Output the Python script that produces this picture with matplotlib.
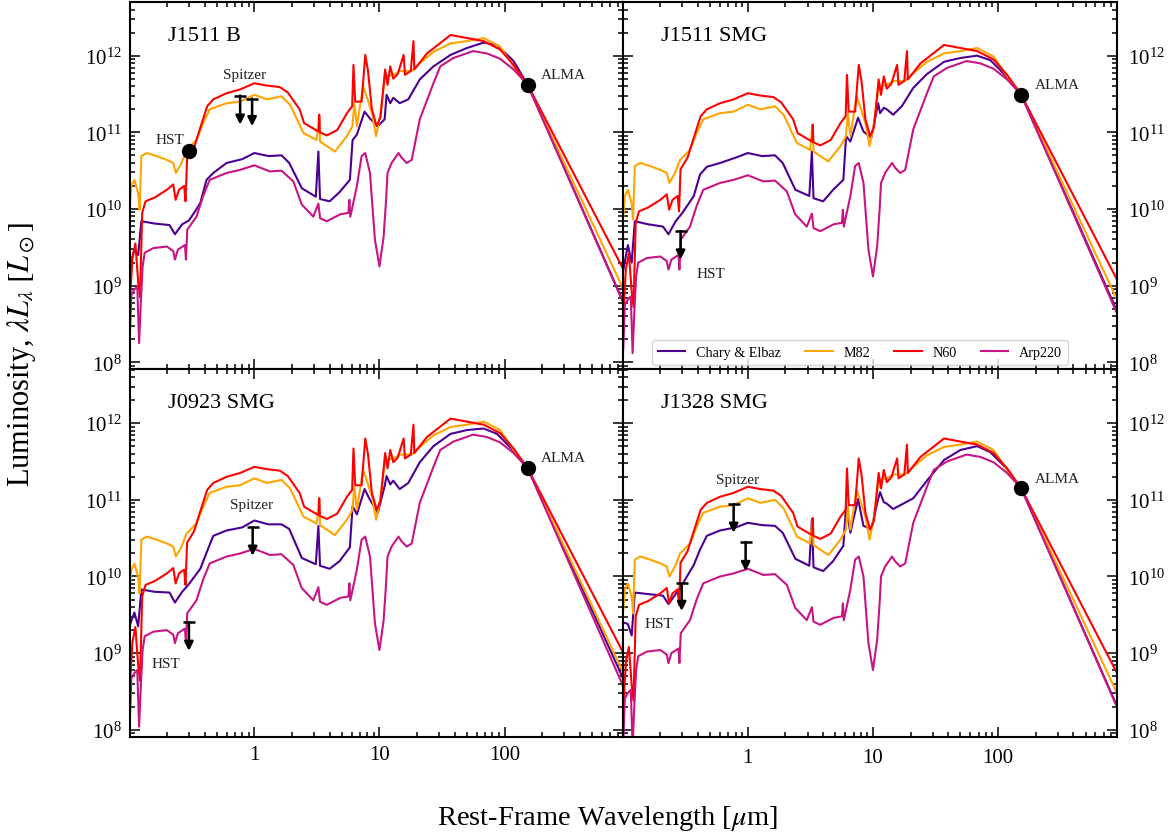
import numpy as np
import matplotlib
matplotlib.use('Agg')
import matplotlib.pyplot as plt
from matplotlib import ticker

plt.rcParams['font.family'] = 'serif'
plt.rcParams['font.serif'] = ['Liberation Serif', 'DejaVu Serif']
plt.rcParams['mathtext.fontset'] = 'stix'

panels = ['J1511 B', 'J1511 SMG', 'J0923 SMG', 'J1328 SMG']

# wavelength grids of the templates (micron)
ce_wave = [0.101, 0.11, 0.118, 0.125, 0.16, 0.21, 0.232, 0.265, 0.3, 0.34,
           0.37, 0.415, 0.47, 0.6, 0.8, 1.0, 1.3, 1.65, 1.9, 2.4,
           3.1, 3.25, 3.35, 4.0, 4.8, 5.8, 6.1, 6.6, 7.6, 8.4,
           9.7, 11.0, 11.4, 12.2, 12.9, 14.5, 17.0, 21, 27, 37,
           50, 68, 87, 118, 153, 891]
m82_wave = [0.101, 0.104, 0.110, 0.118, 0.121, 0.125, 0.138, 0.166, 0.20, 0.225,
            0.236, 0.262, 0.287, 0.345, 0.39, 0.44, 0.6, 0.77, 1.0, 1.26,
            1.65, 1.93, 2.47, 3.15, 3.29, 3.35, 4.4, 5.5, 6.08, 6.3,
            6.6, 7.4, 7.9, 8.7, 9.4, 10.1, 11.1, 12.9, 14.6, 18.1,
            21, 27, 37, 50, 68, 92, 118, 153, 891]
n60_wave = [0.101, 0.106, 0.112, 0.118, 0.122, 0.127, 0.135, 0.16, 0.20, 0.225,
            0.235, 0.25, 0.275, 0.282, 0.29, 0.33, 0.36, 0.42, 0.47, 0.6,
            0.77, 1.0, 1.26, 1.6, 1.85, 2.3, 2.5, 3.1, 3.28, 3.3,
            3.34, 3.8, 4.6, 5.5, 6.05, 6.2, 6.4, 7.2, 7.7, 8.1,
            8.7, 9.5, 10.2, 11.1, 11.6, 12.2, 12.9, 14.0, 15.6, 16.0,
            17.8, 18.7, 19.0, 24, 37, 50, 68, 92, 118, 153, 891]
arp_wave = [0.101, 0.104, 0.110, 0.116, 0.120, 0.124, 0.128, 0.133, 0.156, 0.20,
            0.225, 0.232, 0.245, 0.279, 0.284, 0.291, 0.345, 0.39, 0.44, 0.6,
            0.77, 1.0, 1.33, 1.65, 2.05, 2.39, 2.96, 3.25, 3.35, 3.79,
            4.85, 5.65, 5.75, 5.85, 6.6, 7.2, 7.7, 8.4, 9.2, 10.0,
            10.8, 11.3, 11.6, 12.5, 14.2, 15.0, 16.5, 18.1, 21, 27,
            30.6, 39, 56, 72, 92, 118, 153, 891]

# log10 luminosity (L_sun), one array per template and source
ce_j1511b = [9.25, 9.47, 9.40, 9.84, 9.81, 9.79, 9.67, 9.80, 9.85, 9.98,
             10.08, 10.38, 10.47, 10.60, 10.65, 10.73, 10.69, 10.70, 10.60, 10.27,
             10.16, 10.75, 10.13, 10.10, 10.22, 10.38, 10.90, 10.97, 11.27, 11.18,
             11.08, 11.17, 11.49, 11.38, 11.45, 11.38, 11.43, 11.69, 11.86, 12.01,
             12.10, 12.17, 12.14, 11.93, 11.62, 8.78]
ce_j1511smg = [9.20, 9.53, 9.30, 9.84, 9.80, 9.77, 9.67, 9.84, 9.95, 10.08,
               10.17, 10.45, 10.55, 10.60, 10.67, 10.73, 10.69, 10.70, 10.60, 10.25,
               10.17, 10.75, 10.14, 10.10, 10.25, 10.38, 10.95, 10.88, 11.19, 11.01,
               10.93, 11.38, 11.25, 11.32, 11.30, 11.23, 11.34, 11.58, 11.76, 11.92,
               11.97, 12.00, 11.94, 11.72, 11.49, 8.67]
ce_j0923 = [9.36, 9.53, 9.35, 9.83, 9.80, 9.79, 9.66, 9.80, 9.90, 10.02,
            10.10, 10.31, 10.53, 10.60, 10.64, 10.73, 10.68, 10.68, 10.62, 10.24,
            10.16, 10.66, 10.14, 10.10, 10.20, 10.38, 10.92, 10.81, 11.14, 11.00,
            10.83, 11.18, 11.31, 11.20, 11.25, 11.14, 11.22, 11.49, 11.70, 11.86,
            11.91, 11.93, 11.86, 11.64, 11.41, 8.66]
ce_j1328 = [9.40, 9.38, 9.23, 9.79, 9.77, 9.75, 9.64, 9.77, 9.90, 10.05,
            10.15, 10.35, 10.53, 10.60, 10.64, 10.70, 10.67, 10.66, 10.57, 10.23,
            10.14, 10.75, 10.12, 10.07, 10.20, 10.40, 10.92, 10.57, 11.01, 10.66,
            10.62, 11.01, 11.10, 10.97, 10.95, 10.88, 10.94, 11.02, 11.25, 11.52,
            11.65, 11.70, 11.62, 11.40, 11.15, 8.31]

m82_j1511b = [10.03, 10.30, 10.38, 10.20, 9.99, 10.69, 10.73, 10.69, 10.64, 10.60,
              10.47, 10.60, 10.77, 10.90, 11.12, 11.30, 11.38, 11.40, 11.49, 11.43,
              11.47, 11.36, 10.99, 10.90, 11.23, 10.88, 10.75, 10.95, 11.08, 11.38,
              11.08, 11.60, 11.47, 11.25, 10.95, 11.21, 11.73, 11.75, 11.80, 11.80,
              11.90, 12.05, 12.16, 12.19, 12.23, 12.12, 11.86, 11.62, 8.95]
m82_j1511smg = [9.90, 10.17, 10.25, 10.07, 9.86, 10.56, 10.60, 10.56, 10.51, 10.47,
                10.34, 10.47, 10.64, 10.77, 10.99, 11.17, 11.25, 11.27, 11.36, 11.30,
                11.34, 11.23, 10.86, 10.77, 11.10, 10.75, 10.62, 10.82, 10.95, 11.25,
                10.95, 11.47, 11.34, 11.12, 10.82, 11.08, 11.60, 11.62, 11.67, 11.67,
                11.77, 11.92, 12.03, 12.06, 12.10, 11.99, 11.73, 11.49, 8.82]
m82_j0923 = [9.82, 10.09, 10.17, 9.99, 9.78, 10.48, 10.52, 10.48, 10.43, 10.39,
             10.26, 10.39, 10.56, 10.69, 10.91, 11.09, 11.17, 11.19, 11.28, 11.22,
             11.26, 11.15, 10.78, 10.69, 11.02, 10.67, 10.54, 10.74, 10.87, 11.17,
             10.87, 11.39, 11.26, 11.04, 10.74, 11.00, 11.52, 11.54, 11.59, 11.59,
             11.69, 11.84, 11.95, 11.98, 12.02, 11.91, 11.65, 11.41, 8.74]
m82_j1328 = [9.56, 9.83, 9.91, 9.73, 9.52, 10.22, 10.26, 10.22, 10.17, 10.13,
             10.00, 10.13, 10.30, 10.43, 10.65, 10.83, 10.91, 10.93, 11.02, 10.96,
             11.00, 10.89, 10.52, 10.43, 10.76, 10.41, 10.28, 10.48, 10.61, 10.91,
             10.61, 11.13, 11.00, 10.78, 10.48, 10.74, 11.26, 11.28, 11.33, 11.33,
             11.43, 11.58, 11.69, 11.72, 11.76, 11.65, 11.39, 11.15, 8.48]

n60_j1511b = [8.75, 9.35, 9.55, 9.05, 8.85, 9.95, 10.10, 10.15, 10.25, 10.32,
              10.12, 10.25, 10.30, 10.10, 10.65, 10.80, 11.00, 11.34, 11.43, 11.51,
              11.56, 11.64, 11.61, 11.59, 11.52, 11.30, 11.12, 11.03, 11.01, 11.23,
              11.00, 10.96, 11.03, 11.25, 11.34, 11.88, 11.40, 11.40, 12.01, 11.80,
              11.30, 11.08, 11.20, 11.82, 11.62, 11.86, 11.70, 11.76, 12.01, 11.75,
              11.80, 12.19, 11.82, 12.03, 12.27, 12.23, 12.19, 12.08, 11.88, 11.62, 9.21]
n60_j1511smg = [8.62, 9.22, 9.42, 8.92, 8.72, 9.82, 9.97, 10.02, 10.12, 10.19,
                9.99, 10.12, 10.17, 9.97, 10.52, 10.67, 10.87, 11.21, 11.30, 11.38,
                11.43, 11.51, 11.48, 11.46, 11.39, 11.17, 10.99, 10.90, 10.88, 11.10,
                10.87, 10.83, 10.90, 11.12, 11.21, 11.75, 11.27, 11.27, 11.88, 11.67,
                11.17, 10.95, 11.07, 11.69, 11.49, 11.73, 11.57, 11.63, 11.88, 11.62,
                11.67, 12.06, 11.69, 11.90, 12.14, 12.10, 12.06, 11.95, 11.75, 11.49, 9.08]
n60_j0923 = [8.54, 9.14, 9.34, 8.84, 8.64, 9.74, 9.89, 9.94, 10.04, 10.11,
             9.91, 10.04, 10.09, 9.89, 10.44, 10.59, 10.79, 11.13, 11.22, 11.30,
             11.35, 11.43, 11.40, 11.38, 11.31, 11.09, 10.91, 10.82, 10.80, 11.02,
             10.79, 10.75, 10.82, 11.04, 11.13, 11.67, 11.19, 11.19, 11.80, 11.59,
             11.09, 10.87, 10.99, 11.61, 11.41, 11.65, 11.49, 11.55, 11.80, 11.54,
             11.59, 11.98, 11.61, 11.82, 12.06, 12.02, 11.98, 11.87, 11.67, 11.41, 9.00]
n60_j1328 = [8.28, 8.88, 9.08, 8.58, 8.38, 9.48, 9.63, 9.68, 9.78, 9.85,
             9.65, 9.78, 9.83, 9.63, 10.18, 10.33, 10.53, 10.87, 10.96, 11.04,
             11.09, 11.17, 11.14, 11.12, 11.05, 10.83, 10.65, 10.56, 10.54, 10.76,
             10.53, 10.49, 10.56, 10.78, 10.87, 11.41, 10.93, 10.93, 11.54, 11.33,
             10.83, 10.61, 10.73, 11.35, 11.15, 11.39, 11.23, 11.29, 11.54, 11.28,
             11.33, 11.72, 11.35, 11.56, 11.80, 11.76, 11.72, 11.61, 11.41, 11.15, 8.74]

arp_j1511b = [8.30, 8.88, 8.95, 8.99, 8.25, 8.80, 9.25, 9.43, 9.49, 9.51,
              9.45, 9.34, 9.47, 9.53, 9.34, 9.73, 9.90, 10.17, 10.38, 10.47,
              10.51, 10.57, 10.49, 10.50, 10.36, 10.06, 9.90, 10.07, 9.88, 9.84,
              9.93, 9.95, 10.12, 9.90, 10.30, 10.69, 10.73, 10.47, 9.60, 9.25,
              9.64, 10.12, 10.47, 10.60, 10.73, 10.67, 10.60, 10.64, 11.17, 11.64,
              11.86, 11.97, 12.06, 12.03, 11.96, 11.82, 11.62, 8.77]
arp_j1511smg = [8.17, 8.75, 8.82, 8.86, 8.12, 8.67, 9.12, 9.30, 9.36, 9.38,
                9.32, 9.21, 9.34, 9.40, 9.21, 9.60, 9.77, 10.04, 10.25, 10.34,
                10.38, 10.44, 10.36, 10.37, 10.23, 9.93, 9.77, 9.94, 9.75, 9.71,
                9.80, 9.82, 9.99, 9.77, 10.17, 10.56, 10.60, 10.34, 9.47, 9.12,
                9.51, 9.99, 10.34, 10.47, 10.60, 10.54, 10.47, 10.51, 11.04, 11.51,
                11.73, 11.84, 11.93, 11.90, 11.83, 11.69, 11.49, 8.64]
arp_j0923 = [8.09, 8.67, 8.74, 8.78, 8.04, 8.59, 9.04, 9.22, 9.28, 9.30,
             9.24, 9.13, 9.26, 9.32, 9.13, 9.52, 9.69, 9.96, 10.17, 10.26,
             10.30, 10.36, 10.28, 10.29, 10.15, 9.85, 9.69, 9.86, 9.67, 9.63,
             9.72, 9.74, 9.91, 9.69, 10.09, 10.48, 10.52, 10.26, 9.39, 9.04,
             9.43, 9.91, 10.26, 10.39, 10.52, 10.46, 10.39, 10.43, 10.96, 11.43,
             11.65, 11.76, 11.85, 11.82, 11.75, 11.61, 11.41, 8.56]
arp_j1328 = [7.83, 8.41, 8.48, 8.52, 7.78, 8.33, 8.78, 8.96, 9.02, 9.04,
             8.98, 8.87, 9.00, 9.06, 8.87, 9.26, 9.43, 9.70, 9.91, 10.00,
             10.04, 10.10, 10.02, 10.03, 9.89, 9.59, 9.43, 9.60, 9.41, 9.37,
             9.46, 9.48, 9.65, 9.43, 9.83, 10.22, 10.26, 10.00, 9.13, 8.78,
             9.17, 9.65, 10.00, 10.13, 10.26, 10.20, 10.13, 10.17, 10.70, 11.17,
             11.39, 11.50, 11.59, 11.56, 11.49, 11.35, 11.15, 8.30]

# photometry: detections and upper limits (log10 L)
det_wave = [[0.30, 153], [153], [153], [153]]
det_lum = [[10.75, 11.62], [11.49], [11.41], [11.15]]
lim_wave = [[0.77, 0.96], [0.29], [0.97, 0.30], [0.77, 0.96, 0.296]]
lim_top = [[11.48, 11.44], [9.71], [10.64, 9.40], [10.94, 10.45, 9.91]]
lim_tip = [[11.10, 11.08], [9.34], [10.27, 9.03], [10.57, 10.07, 9.55]]

notes_text = [['HST', 'Spitzer', 'ALMA'], ['HST', 'ALMA'],
              ['Spitzer', 'HST', 'ALMA'], ['Spitzer', 'HST', 'ALMA']]
notes_wave = [[0.212, 0.843, 295], [0.505, 300], [0.95, 0.196, 297], [0.83, 0.194, 295]]
notes_lum = [[10.905, 11.75, 11.75], [9.16, 11.62], [10.94, 8.86, 11.55], [11.27, 9.38, 11.28]]

templates = [
    ('Chary & Elbaz', '#4b0092', ce_wave, [ce_j1511b, ce_j1511smg, ce_j0923, ce_j1328]),
    ('M82', '#ffa500', m82_wave, [m82_j1511b, m82_j1511smg, m82_j0923, m82_j1328]),
    ('N60', '#ff0000', n60_wave, [n60_j1511b, n60_j1511smg, n60_j0923, n60_j1328]),
    ('Arp220', '#c71585', arp_wave, [arp_j1511b, arp_j1511smg, arp_j0923, arp_j1328]),
]

fig, axes = plt.subplots(2, 2, figsize=(11.75, 8.37), dpi=100, sharex=True, sharey=True)
fig.subplots_adjust(left=0.1106, right=0.9506, top=0.9964, bottom=0.1183,
                    wspace=0, hspace=0)

for i, ax in enumerate(axes.flat):
    for name, color, wave, lums in templates:
        ax.plot(wave, 10 ** np.array(lums[i]), color=color, lw=1.5, label=name)

    # upper limits: cap at the limit, arrow pointing down
    for xw, yt, yb in zip(lim_wave[i], lim_top[i], lim_tip[i]):
        ax.annotate('', xy=(xw, 10 ** yb), xytext=(xw, 10 ** yt),
                    arrowprops=dict(arrowstyle='-|>', color='k', lw=1.8,
                                    mutation_scale=13, shrinkA=0, shrinkB=0),
                    zorder=5)
    ax.plot(lim_wave[i], 10 ** np.array(lim_top[i]), '_', color='k', ms=8, mew=1.8,
            zorder=5)
    ax.plot(det_wave[i], 10 ** np.array(det_lum[i]), 'o', color='k', ms=10, zorder=6)

    for t, xw, yl in zip(notes_text[i], notes_wave[i], notes_lum[i]):
        ax.text(xw, 10 ** yl, t, fontsize=11, ha='center', va='center', color='#222222')

    ax.text(0.077, 0.91, panels[i], transform=ax.transAxes, fontsize=16,
            ha='left', va='center')

    ax.set_xscale('log')
    ax.set_yscale('log')
    ax.set_xlim(10 ** -0.994, 10 ** 2.95)
    ax.set_ylim(10 ** 7.906, 10 ** 12.70)
    ax.xaxis.set_major_formatter(ticker.FuncFormatter(lambda v, p: f'{v:g}'))
    ax.tick_params(which='both', direction='in', top=True, bottom=True,
                   left=True, right=True, width=1.1, labelsize=15)
    ax.tick_params(which='major', length=7)
    ax.tick_params(which='minor', length=3.5)
    for s in ax.spines.values():
        s.set_linewidth(1.5)
    if i % 2 == 1:
        ax.tick_params(labelleft=False, labelright=True, pad=8)
    else:
        ax.tick_params(labelleft=True, labelright=False, pad=6)
    ax.tick_params(labelbottom=(i >= 2))

axes[0, 1].legend(loc='lower center', bbox_to_anchor=(0.479, 0.0), ncol=4,
                  fontsize=10.2, handlelength=1.95, columnspacing=1.7,
                  handletextpad=0.75, borderaxespad=0.35, edgecolor='0.8')

fig.text(0.517, 0.0227, r'Rest-Frame Wavelength [$\mu$m]', fontsize=20.5,
         ha='center', va='center')
fig.text(0.0187, 0.418, r'Luminosity, $\lambda L_\lambda\;[L_\odot]$', fontsize=22,
         ha='center', va='bottom', rotation=90)

fig.savefig('out.png', dpi=100)
